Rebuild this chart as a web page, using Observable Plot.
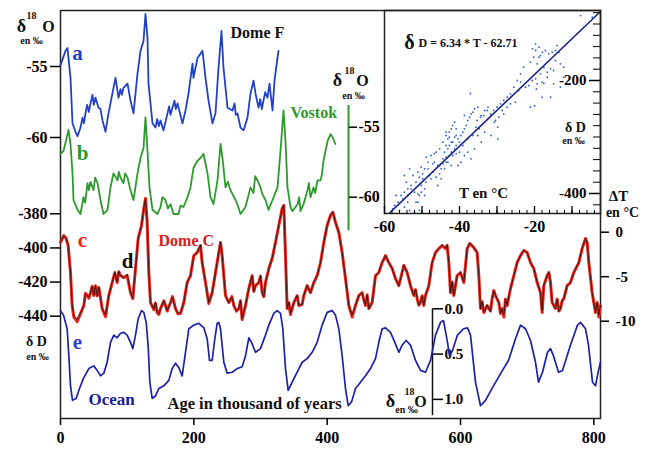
<!DOCTYPE html>
<html>
<head>
<meta charset="utf-8">
<script src="https://cdn.jsdelivr.net/npm/d3@7"></script>
<script src="https://cdn.jsdelivr.net/npm/@observablehq/plot@0.6"></script>
<style>
  html, body { margin: 0; padding: 0; background: #fff; }
  #chart { position: relative; width: 653px; height: 452px; overflow: hidden; background: #fff; }
  #chart svg { position: absolute; left: 0; top: 0; background: transparent !important; overflow: visible; }
</style>
</head>
<body>
<div id="chart"></div>
<script>
// ---- Dome F δ18O (‰), age in ka ----
const domeFAge = [0, 7.5, 10.5, 15, 18, 22.5, 25.5, 30, 37.5, 45, 52.5, 57, 63, 67.5, 72, 79.5, 82.5, 87, 94.5, 100.5,
  105, 109.5, 115.5, 120, 124.5, 127.5, 130.5, 132, 138, 142.5, 150, 154.5, 160.5, 168, 175.5, 183, 187.5, 192, 198, 199.5,
  205.5, 213, 217.5, 222, 228, 232.5, 237, 241.5, 244.5, 250.5, 258, 265.5, 270, 274.5, 280.5, 285, 289.5, 292.5, 297, 304.5,
  310.5, 313.5, 318, 321, 325.5, 327];
const domeFd18O = [-54.9, -53.9, -53.7, -55.8, -59.0, -59.6, -59.9, -59.3, -58.3, -57.6, -57.2, -57.9, -58.8, -59.6, -58.3, -56.5, -55.8, -57.2, -56.5, -56.2,
  -57.4, -58.3, -55.5, -53.9, -53.2, -51.3, -53.0, -56.2, -59.0, -59.3, -58.8, -59.5, -58.3, -57.9, -57.6, -59.0, -58.1, -56.9, -54.8, -55.8,
  -54.4, -53.9, -55.8, -57.4, -59.0, -58.3, -55.1, -52.5, -55.1, -57.9, -58.1, -58.3, -59.3, -59.5, -58.6, -56.9, -56.0, -56.9, -57.9, -57.4,
  -57.2, -56.2, -58.1, -56.0, -54.4, -53.9];
// short-term variability in the glacial stretches
const domeFAgeFine = [33, 35, 40, 42.5, 48, 50, 60, 90, 92, 145, 147.5, 163, 165, 171, 173, 261, 263, 299.5, 302, 307];
const domeFd18OFine = [-58.6, -59.0, -57.7, -58.2, -57.0, -57.7, -58.0, -56.6, -57.0, -58.7, -59.2, -57.8, -58.4, -57.4, -58.0, -57.6, -58.4, -57.3, -58.0, -56.8];

// ---- Vostok δ18O (‰) ----
const vostokAge = [0, 4.5, 10.5, 12, 15, 18, 19.5, 25.5, 30, 34.5, 40.5, 45, 49.5, 55.5, 60, 64.5, 70.5, 75, 79.5, 85.5,
  90, 94.5, 100.5, 105, 109.5, 115.5, 120, 124.5, 127.5, 130.5, 133.5, 138, 145.5, 150, 157.5, 165, 169.5, 177, 184.5, 190.5,
  195, 199.5, 205.5, 210, 214.5, 220.5, 225, 229.5, 235.5, 240, 243, 247.5, 255, 262.5, 270, 277.5, 285, 289.5, 295.5, 300,
  307.5, 312, 318, 325.5, 330, 334.5, 337.5, 340.5, 345, 348, 355.5, 360, 364.5, 370.5, 375, 379.5, 385.5, 390, 394.5, 400.5,
  405, 408, 412.5];
const vostokd18O = [-56.9, -56.7, -55.5, -55.2, -56.2, -58.3, -60.2, -60.9, -61.2, -60.0, -59.0, -58.9, -59.5, -59.0, -60.2, -61.2, -60.9, -59.3, -58.3, -58.8,
  -58.6, -59.0, -58.6, -59.5, -60.2, -58.3, -57.2, -56.5, -54.3, -56.7, -59.3, -60.9, -61.2, -60.7, -60.2, -60.5, -61.2, -61.2, -60.7, -60.0,
  -59.3, -57.9, -57.4, -57.2, -56.9, -58.3, -60.0, -60.5, -58.8, -56.2, -57.2, -59.3, -59.5, -60.2, -61.2, -60.7, -59.3, -59.7, -58.8, -59.3,
  -60.2, -60.9, -60.2, -59.3, -56.7, -53.8, -56.0, -59.3, -60.7, -61.0, -60.5, -61.0, -60.5, -59.5, -60.0, -59.3, -58.8, -58.8, -57.4, -56.0,
  -55.5, -55.7, -56.2];
const vostokAgeFine = [37, 42.5, 52, 87.5, 97, 153, 161, 180, 251, 266, 292, 303, 358, 372.5, 382, 392];
const vostokd18OFine = [-60.4, -59.5, -58.6, -58.2, -58.3, -60.0, -60.8, -60.6, -58.9, -60.6, -58.5, -59.8, -60.0, -59.0, -59.7, -58.4];

// ---- EPICA Dome C: δD (‰) and temperature anomaly ΔT (°C) ----
const domeCAge = [0, 5, 8.5, 11.5, 15, 17.5, 20, 25, 30, 35, 40, 45, 50, 52.5, 57.5, 62.5, 67.5, 72.5, 77.5, 81.5,
  85, 90, 95, 100, 105, 108.5, 112.5, 116.5, 121.5, 125, 127.5, 130, 132.5, 135, 140, 145, 150, 157.5, 165, 172.5,
  180, 185, 190, 195, 200, 205, 210, 212.5, 217.5, 222.5, 227.5, 235, 240, 242.5, 247.5, 252.5, 260, 267.5, 272.5, 277.5,
  282.5, 287.5, 292.5, 297.5, 302.5, 307.5, 312.5, 317.5, 322.5, 327.5, 332.5, 335, 337.5, 340, 345, 350, 357.5, 365, 370, 375,
  380, 385, 390, 395, 400, 405, 408.5, 412.5, 417.5, 422.5, 427.5, 432.5, 437.5, 442.5, 447.5, 452.5, 457.5, 462.5, 467.5, 472.5,
  477.5, 482.5, 487.5, 492.5, 497.5, 502.5, 507.5, 515, 520, 525, 530, 535, 540, 545, 547.5, 552.5, 557.5, 562.5, 567.5, 572.5,
  577.5, 580, 582.5, 585, 590, 595, 600, 605, 610, 614, 620, 625, 627.5, 630, 635, 640, 647.5, 652.5, 657.5, 662.5,
  665, 670, 675, 680, 685, 690, 695, 700, 705, 710, 715, 720, 722.5, 725, 730, 732.5, 735, 737.5, 742.5, 750,
  755, 760, 765, 770, 777.5, 782.5, 787.5, 790, 792.5, 797.5, 802.5, 807.5, 810];
const domeCdD = [-396.7, -392.8, -394.5, -398.6, -414.4, -433.8, -440.5, -443.2, -438.5, -433.8, -427.9, -426.2, -427.9, -422.1, -423.2, -435.5, -440.3, -427.9, -420.3, -414.4,
  -420.3, -416.2, -417.4, -416.2, -426.2, -429.7, -412.1, -394.5, -386.9, -376.9, -371.0, -385.1, -414.4, -432.0, -436.2, -437.9, -435.5, -433.8, -432.0, -435.5,
  -438.4, -432.0, -420.3, -416.2, -404.5, -402.7, -398.6, -408.6, -420.3, -432.5, -426.2, -408.6, -396.8, -404.5, -427.9, -432.0, -433.8, -435.5, -442.0, -433.8,
  -423.8, -416.2, -422.1, -420.3, -426.2, -420.3, -412.1, -406.2, -396.8, -386.9, -376.9, -375.1, -404.5, -435.5, -439.0, -432.0, -433.8, -427.9, -422.1, -426.2,
  -420.3, -416.2, -408.6, -396.8, -386.9, -381.0, -379.2, -385.1, -391.0, -402.7, -418.0, -433.8, -440.5, -433.8, -427.9, -426.2, -433.8, -435.5, -432.0, -416.2,
  -414.4, -408.6, -404.5, -408.6, -412.1, -418.0, -422.1, -410.3, -414.4, -422.1, -427.9, -429.7, -432.0, -433.8, -427.9, -422.1, -408.6, -402.7, -400.4, -398.6,
  -400.4, -398.6, -408.6, -426.2, -427.9, -416.2, -414.4, -420.3, -400.4, -397.4, -399.8, -402.7, -416.2, -435.5, -437.9, -433.8, -429.7, -427.9, -432.0, -435.5,
  -440.5, -433.8, -423.8, -416.2, -408.6, -404.5, -401.5, -402.7, -408.6, -412.1, -420.3, -426.2, -437.9, -422.1, -416.2, -414.4, -420.3, -432.0, -435.5, -435.5,
  -429.7, -422.1, -420.3, -414.4, -408.6, -400.4, -394.5, -396.8, -408.6, -426.2, -437.9, -440.5, -433.8];
const domeCdT = [-1.1, -0.4, -0.7, -1.5, -4.5, -8.2, -9.3, -9.8, -9.1, -8.2, -7.1, -6.8, -7.1, -6.0, -6.2, -8.6, -9.3, -7.1, -5.6, -4.5,
  -5.6, -4.9, -5.1, -4.7, -6.8, -7.4, -4.1, -0.7, 0.8, 2.7, 3.8, 1.1, -4.5, -7.9, -8.6, -9.0, -8.6, -8.2, -7.9, -8.6,
  -9.0, -7.9, -5.6, -4.9, -2.6, -2.3, -1.4, -3.4, -5.6, -7.9, -6.8, -3.4, -1.1, -2.6, -7.1, -7.9, -8.2, -8.6, -9.7, -8.2,
  -6.3, -4.9, -6.0, -5.6, -6.8, -5.6, -4.1, -2.9, -1.1, 0.8, 2.7, 3.0, -2.6, -8.6, -9.1, -7.9, -8.2, -7.1, -6.0, -6.8,
  -5.6, -4.9, -3.4, -1.1, 0.8, 1.9, 2.3, 1.1, 0.0, -2.3, -5.2, -8.2, -9.3, -8.2, -7.1, -6.8, -8.2, -8.6, -7.9, -4.9,
  -4.5, -3.4, -2.6, -3.4, -4.1, -5.2, -6.0, -3.7, -4.5, -6.0, -7.1, -7.4, -7.9, -8.2, -7.1, -6.0, -3.4, -2.3, -1.8, -1.4,
  -1.8, -1.4, -3.4, -6.8, -7.1, -4.9, -4.5, -5.6, -1.8, -1.2, -1.7, -2.3, -4.9, -8.6, -9.0, -8.2, -7.4, -7.1, -7.9, -8.6,
  -9.3, -8.2, -6.3, -4.9, -3.4, -2.6, -2.0, -2.3, -3.4, -4.1, -5.6, -6.8, -8.8, -6.0, -4.9, -4.5, -5.6, -7.9, -8.6, -8.6,
  -7.4, -6.0, -5.6, -4.5, -3.4, -1.8, -0.7, -1.1, -3.4, -6.8, -9.0, -9.3, -8.2];
const domeCAgeFine = [37.5, 42.5, 47.5, 55, 87.5, 142.5, 147.5, 155, 160, 168, 176, 257, 264, 270, 290, 300, 305, 342.5, 355, 362.5,
  455, 460, 532.5, 537.5, 542.5, 587.5, 632.5, 645, 650, 660, 667.5, 745, 747.5, 752.5, 805];
const domeCdDFine = [-426.5, -429.5, -422.5, -428.0, -414.0, -432.5, -439.0, -431.0, -437.0, -428.5, -438.5, -428.5, -437.0, -431.0, -425.5, -416.5, -428.5, -432.0, -428.0, -433.0,
  -430.5, -427.5, -424.5, -433.5, -428.0, -420.0, -431.5, -437.0, -425.0, -438.5, -430.0, -430.0, -437.0, -431.0, -432.0];
const domeCdTFine = [-6.9, -7.3, -6.1, -7.2, -4.4, -7.8, -9.2, -7.7, -8.8, -7.3, -9.1, -7.3, -8.8, -7.7, -6.7, -4.9, -7.3, -7.9, -7.1, -8.1,
  -7.6, -7.0, -6.4, -8.2, -7.2, -5.6, -7.8, -8.9, -6.6, -9.1, -7.5, -7.5, -8.9, -7.7, -7.9];

// ---- Benthic (ocean) δ18O anomaly (‰) ----
const oceanAge = [0, 4.5, 10, 12.5, 15, 18, 23.5, 28.5, 35, 42.5, 50, 55, 60, 65, 70, 75, 80, 85, 90, 95,
  100, 105, 108.5, 112.5, 116.5, 121.5, 125, 128.5, 131.5, 134, 137.5, 142.5, 147.5, 155, 162.5, 167.5, 172.5, 177.5, 182.5, 187.5,
  192.5, 200, 207.5, 215, 220, 223.5, 227.5, 231.5, 235, 237.5, 240, 245, 250, 257.5, 265, 272.5, 277.5, 282.5, 286.5, 292.5,
  300, 307.5, 312.5, 320, 325, 330, 333.5, 337.5, 341.5, 347.5, 355, 362.5, 370, 377.5, 385, 392.5, 400, 407.5, 412.5, 417.5,
  422.5, 427.5, 431.5, 436.5, 442.5, 450, 457.5, 465, 472.5, 477.5, 482.5, 487.5, 495, 501.5, 507.5, 512.5, 518.5, 525, 532.5, 540,
  547.5, 555, 562.5, 570, 574.5, 580.5, 583.5, 588, 595.5, 604.5, 610.5, 615, 622.5, 630, 637.5, 648, 663, 672, 682.5, 690,
  697.5, 705, 712.5, 717, 723, 730.5, 735, 739.5, 747, 753, 765, 775.5, 780, 787.5, 792, 798, 802.5, 807, 810];
const oceand18O = [0.02, 0.07, 0.22, 0.52, 0.85, 1.01, 0.99, 0.88, 0.76, 0.66, 0.63, 0.68, 0.74, 0.71, 0.59, 0.37, 0.29, 0.32, 0.27, 0.26,
  0.29, 0.37, 0.44, 0.29, 0.11, 0.02, 0.04, 0.15, 0.41, 0.81, 0.99, 0.96, 0.88, 0.85, 0.79, 0.66, 0.60, 0.65, 0.74, 0.48,
  0.22, 0.18, 0.16, 0.21, 0.33, 0.57, 0.57, 0.33, 0.16, 0.15, 0.22, 0.59, 0.71, 0.70, 0.66, 0.64, 0.52, 0.32, 0.37, 0.48,
  0.44, 0.29, 0.18, 0.05, 0.02, 0.05, 0.22, 0.66, 0.90, 0.81, 0.70, 0.59, 0.55, 0.48, 0.37, 0.18, 0.04, 0.02, 0.07, 0.22,
  0.52, 0.88, 1.07, 1.03, 0.88, 0.81, 0.74, 0.66, 0.55, 0.37, 0.22, 0.21, 0.26, 0.37, 0.48, 0.40, 0.35, 0.40, 0.57, 0.68,
  0.70, 0.57, 0.29, 0.15, 0.13, 0.37, 0.52, 0.46, 0.29, 0.22, 0.21, 0.29, 0.81, 1.07, 1.01, 0.87, 0.68, 0.57, 0.33, 0.18,
  0.22, 0.35, 0.59, 0.81, 0.70, 0.48, 0.44, 0.52, 0.70, 0.68, 0.40, 0.18, 0.15, 0.22, 0.40, 0.81, 0.85, 0.68, 0.59];

// ---- Inset: present-day surface δD (‰) versus temperature T (°C) ----
const surfaceT = [-57.3, -56.4, -57.8, -55.6, -54.7, -55.1, -53.8, -52.9, -52.0, -51.1, -50.2, -51.6, -52.4, -53.3, -51.1, -50.2, -49.3, -48.4, -48.9, -47.6,
  -46.7, -46.7, -45.8, -47.1, -48.0, -47.6, -46.2, -45.3, -44.9, -44.4, -44.0, -43.6, -43.1, -42.7, -42.2, -41.8, -41.3, -42.2, -41.3, -40.9,
  -40.4, -40.0, -39.6, -39.1, -38.7, -38.2, -37.8, -37.3, -36.9, -36.0, -35.1, -34.2, -33.3, -32.4, -31.6, -30.7, -29.8, -33.3, -35.1, -34.2,
  -36.0, -37.8, -38.7, -36.9, -39.6, -40.4, -42.2, -43.1, -44.0, -44.9, -45.8, -49.3, -50.7, -51.6, -52.0, -56.9, -54.7, -49.8, -42.2, -41.8,
  -41.3, -43.1, -42.7, -43.6, -40.9, -40.0, -39.1, -37.8, -36.4, -35.6, -34.7, -31.6, -29.8, -36.4, -38.7, -40.9, -43.6, -44.4, -45.3, -46.2,
  -47.1, -48.4, -49.8, -50.7, -52.9, -53.8, -54.2, -50.2, -48.9, -51.1, -49.3,
  -43.6, -42.7, -41.8, -40.9, -42.7, -43.6, -44.4, -45.3, -56.0, -54.7, -53.8, -53.3, -50.7,
  -20.6, -19.7, -18.8, -17.9, -17.1, -16.2, -15.3, -14.4, -13.5, -18.4, -20.2, -21.1, -19.3, -17.5, -15.7, -16.6, -18.4, -14.9, -13.1, -14.4,
  -22.9, -23.7, -24.6, -23.7, -25.5, -24.2, -26.4, -27.3, -28.2, -29.1, -30.0, -30.9, -31.7, -32.6, -33.5, -34.4, -35.3, -28.6, -27.3, -28.2,
  -29.5, -30.4, -26.4, -25.1, -22.4, -21.5, -20.6, -19.7, -21.1, -19.3, -18.0, -16.6, -18.8, -4.6, -7.7, -12.2, -14.0, -19.7,
  -12.2, -13.1, -14.9, -15.7, -19.5, -18.0, -20.0, -17.5, -37.1];
const surfacedD = [-421.2, -415.3, -427.1, -403.5, -397.6, -409.4, -391.7, -385.8, -397.6, -400.6, -397.6, -379.9, -368.1, -356.3, -362.2, -353.4, -356.3, -344.5, -335.7, -332.7,
  -329.8, -344.5, -350.4, -362.2, -368.1, -374.0, -371.1, -365.2, -356.3, -338.6, -326.8, -315.0, -303.2, -291.4, -285.5, -279.6, -273.7, -309.1, -320.9, -315.0,
  -303.2, -309.1, -297.3, -291.4, -285.5, -279.6, -270.8, -264.9, -259.0, -250.1, -247.2, -261.9, -253.1, -247.2, -261.9, -273.7, -282.6, -291.4, -297.3, -309.1,
  -320.9, -326.8, -332.7, -338.6, -344.5, -350.4, -350.4, -344.5, -356.3, -374.0, -385.8, -391.7, -403.5, -415.3, -433.0, -403.5, -368.1, -374.0, -326.8, -332.7,
  -300.3, -320.9, -332.7, -335.7, -285.5, -326.8, -315.0, -303.2, -297.3, -282.6, -285.5, -297.3, -303.2, -256.0, -261.9, -297.3, -291.4, -309.1, -320.9, -326.8,
  -347.5, -356.3, -365.2, -371.1, -391.7, -403.5, -379.9, -385.8, -379.9, -415.3, -403.5,
  -297.3, -300.3, -309.1, -329.8, -315.0, -344.5, -347.5, -350.4, -430.0, -424.2, -415.3, -430.1, -430.0,
  -143.9, -146.9, -141.0, -149.9, -146.9, -152.8, -149.9, -146.9, -149.9, -155.8, -158.7, -167.6, -170.5, -176.4, -179.4, -185.3, -188.2, -182.3, -170.5, -164.6,
  -176.4, -188.2, -200.0, -203.0, -211.8, -217.7, -223.6, -229.5, -235.4, -241.3, -247.2, -253.1, -259.0, -253.1, -262.0, -264.9, -270.8, -253.1, -247.2, -259.0,
  -264.9, -270.8, -241.3, -238.4, -211.8, -208.9, -200.0, -197.1, -247.2, -205.9, -203.0, -194.1, -158.7, -87.9, -85.0, -176.4, -138.1, -135.1,
  -194.1, -211.8, -205.9, -229.5, -215.0, -230.0, -245.0, -205.0, -223.0];
const fitSlope = 6.34, fitIntercept = -62.71;

// ---- tick values ----
const ageTicks = [0, 200, 400, 600, 800];
const domeFTicks = [-55, -60];
const vostokTicks = [-55, -60];
const domeCTicks = [-380, -400, -420, -440];
const dTTicks = [0, -5, -10];
const oceanTicks = [0, 0.5, 1.0];
const insetTTicks = [-60, -40, -20];
const insetDTicks = [-200, -400];

// ---- tables for the marks (coarse and fine readings merged in age order) ----
const byAge = rows => rows.sort((a, b) => a.age - b.age);
const domeF = byAge([
  ...domeFAge.map((a, i) => ({age: a, v: domeFd18O[i]})),
  ...domeFAgeFine.map((a, i) => ({age: a, v: domeFd18OFine[i]}))
]);
const vostok = byAge([
  ...vostokAge.map((a, i) => ({age: a, v: vostokd18O[i]})),
  ...vostokAgeFine.map((a, i) => ({age: a, v: vostokd18OFine[i]}))
]);
const domeC = byAge([
  ...domeCAge.map((a, i) => ({age: a, dD: domeCdD[i], dT: domeCdT[i]})),
  ...domeCAgeFine.map((a, i) => ({age: a, dD: domeCdDFine[i], dT: domeCdTFine[i]}))
]);
const ocean = oceanAge.map((a, i) => ({age: a, v: oceand18O[i]}));
const surface = surfaceT.map((t, i) => ({T: t, D: surfacedD[i]}));
const fitLine = [-60, -2.4].map(t => ({T: t, D: fitSlope * t + fitIntercept}));

const col = {
  domeF: "#2341c6", vostok: "#2c9a2c", domeC: "#e8261c", temp: "#111111",
  ocean: "#1e22a4", dots: "#2b5fd2", fit: "#1b278a", ink: "#111111"
};
const W = 653, H = 452;
const chart = document.getElementById("chart");
const num = d => String(d);
const font = {fontFamily: "Liberation Serif", fontWeight: "bold"};

function layer(options) {
  const svg = Plot.plot({width: W, height: H, ...options});
  chart.append(svg);
}
function note(text, x, y, o = {}) {
  return Plot.text([text], {x, y, text: d => d, lineAnchor: "middle", fill: col.ink, fontSize: 15, ...font, ...o});
}
function axis(make, o) {
  return make({label: null, strokeWidth: 1.5, fontSize: 15, ...font, ...o});
}
const ageX = {domain: [0, 810], range: [60, 600]};

// frame and age axis
layer({
  marginLeft: 60, marginRight: 53, marginTop: 10, marginBottom: 34,
  x: {domain: [0, 810]},
  marks: [
    Plot.frame({stroke: "#222", strokeWidth: 1.5}),
    axis(Plot.axisX, {anchor: "bottom", ticks: ageTicks, tickSize: 7, tickPadding: 6, tickFormat: num, fontSize: 16})
  ]
});

// a: Dome F
layer({
  marginLeft: 60, marginRight: 53, marginTop: 10, marginBottom: 34,
  x: {...ageX, axis: null},
  y: {domain: [-55, -60], range: [66, 137]},
  marks: [
    axis(Plot.axisY, {anchor: "left", ticks: domeFTicks, tickSize: 10, tickPadding: 3, tickFormat: num, fontSize: 16}),
    Plot.line(domeF, {x: "age", y: "v", stroke: col.domeF, strokeWidth: 1.8}),
    note("δ", -58.5, -52.18, {fontSize: 18}),
    note("18", -43.5, -51.41, {fontSize: 10}),
    note("O", -18, -52.18, {fontSize: 16}),
    note("en ‰", -43.5, -53.17, {fontSize: 10}),
    note("a", 25.5, -54.08, {fontSize: 21, fill: col.domeF}),
    note("Dome F", 255, -52.61, {fontSize: 16, textAnchor: "start"})
  ]
});

// b: Vostok, with its own axis on the right of the curve
layer({
  marginLeft: 0, marginRight: 305, marginTop: 10, marginBottom: 34,
  x: {...ageX, axis: null},
  y: {domain: [-55, -60], range: [126.7, 196.7]},
  marks: [
    Plot.ruleX([432], {y1: -53.45, y2: -62.4, stroke: col.vostok, strokeWidth: 2}),
    axis(Plot.axisY, {anchor: "right", ticks: vostokTicks, tickSize: 8, tickPadding: 2, tickFormat: num, fontSize: 16}),
    Plot.line(vostok, {x: "age", y: "v", stroke: col.vostok, strokeWidth: 1.8}),
    note("b", 33, -56.88, {fontSize: 21, fill: col.vostok}),
    note("Vostok", 345, -53.95, {fontSize: 16, textAnchor: "start", fill: col.vostok}),
    note("δ", 415.5, -51.66, {fontSize: 18}),
    note("18", 433.5, -50.95, {fontSize: 10}),
    note("O", 453, -51.66, {fontSize: 16}),
    note("en ‰", 439.5, -52.74, {fontSize: 10})
  ]
});

// c: Dome C δD
layer({
  marginLeft: 60, marginRight: 53, marginTop: 10, marginBottom: 34,
  x: {...ageX, axis: null},
  y: {domain: [-380, -440], range: [213.3, 315.7]},
  marks: [
    axis(Plot.axisY, {anchor: "left", ticks: domeCTicks, tickSize: 10, tickPadding: 3, tickFormat: num, fontSize: 16}),
    Plot.line(domeC, {x: "age", y: "dD", stroke: col.domeC, strokeWidth: 3}),
    note("c", 33, -395.7, {fontSize: 21, fill: col.domeC}),
    note("Dome C", 147, -395.7, {fontSize: 16, textAnchor: "start", fill: "#d0201c"}),
    note("d", 100.5, -408.0, {fontSize: 21}),
    note("δ D", -36, -455.0, {fontSize: 14}),
    note("en ‰", -34.5, -463.5, {fontSize: 10})
  ]
});

// d: Dome C temperature anomaly
layer({
  marginLeft: 60, marginRight: 53, marginTop: 10, marginBottom: 34,
  x: {...ageX, axis: null},
  y: {domain: [0, -10], range: [231.7, 320.7]},
  marks: [
    axis(Plot.axisY, {anchor: "right", ticks: dTTicks, tickSize: 8, tickPadding: 7, tickFormat: num}),
    Plot.line(domeC, {x: "age", y: "dT", stroke: col.temp, strokeWidth: 0.75}),
    note("ΔT", 837, 4.01, {fontSize: 15}),
    note("en °C", 843, 2.21, {fontSize: 14})
  ]
});

// e: ocean δ18O, reversed axis in the middle of the panel
layer({
  marginLeft: 0, marginRight: 221, marginTop: 10, marginBottom: 34,
  x: {...ageX, axis: null},
  y: {domain: [0, 1], range: [308.3, 398.9]},
  marks: [
    Plot.ruleX([558], {y1: 0, y2: 1.18, stroke: col.ink, strokeWidth: 1.5}),
    axis(Plot.axisY, {anchor: "right", ticks: oceanTicks, tickSize: 10, tickPadding: 2, tickFormat: d => d.toFixed(1)}),
    Plot.line(ocean, {x: "age", y: "v", stroke: col.ocean, strokeWidth: 1.7}),
    note("e", 25.5, 0.372, {fontSize: 21, fill: "#3343c4"}),
    note("Ocean", 42, 1.0, {fontSize: 17, textAnchor: "start", fill: "#1d208f"}),
    note("Age in thousand of years", 160.5, 1.045, {fontSize: 16.5, textAnchor: "start"}),
    note("δ", 495, 1.023, {fontSize: 18}),
    note("18", 523.5, 0.913, {fontSize: 10}),
    note("O", 540, 1.023, {fontSize: 16}),
    note("en ‰", 519, 1.111, {fontSize: 10})
  ]
});

// inset: δD versus T with the linear fit
const insetT = {domain: [-60, -2.4]};
const insetD = {domain: [-435.4, -76.1]};
layer({
  marginLeft: 384, marginRight: 53, marginTop: 10, marginBottom: 239,
  x: insetT,
  y: {...insetD, axis: null},
  marks: [
    Plot.frame({stroke: "#222", strokeWidth: 1.5}),
    Plot.dot(surface, {x: "T", y: "D", r: 0.9, fill: col.dots, stroke: "none"}),
    Plot.line(fitLine, {x: "T", y: "D", stroke: col.fit, strokeWidth: 1.6, clip: "frame"}),
    axis(Plot.axisX, {anchor: "bottom", ticks: insetTTicks, tickSize: 0, tickPadding: 7, tickFormat: num, fontSize: 16}),
    note("δ", -53.33, -132.7, {fontSize: 20}),
    note("D = 6.34 * T - 62.71", -50.93, -134.5, {fontSize: 12, textAnchor: "start"}),
    note("T en °C", -33.6, -400, {fontSize: 15}),
    note("δ D", -9.07, -283.2, {fontSize: 14}),
    note("en ‰", -9.6, -306.2, {fontSize: 10})
  ]
});

// inset ticks: temperature ticks pointing up from the inset base
layer({
  marginLeft: 384, marginRight: 53, marginTop: 213, marginBottom: 0,
  x: insetT,
  marks: [
    axis(Plot.axisX, {anchor: "top", ticks: d3.range(-60, -2, 2), tickSize: 4, tickFormat: () => "", strokeWidth: 1}),
    axis(Plot.axisX, {anchor: "top", ticks: d3.range(-60, -2, 10), tickSize: 8, tickFormat: () => "", strokeWidth: 1.3})
  ]
});

// inset ticks: δD ticks pointing inward from the right edge
layer({
  marginLeft: 600, marginRight: 0, marginTop: 10, marginBottom: 239,
  y: insetD,
  marks: [
    axis(Plot.axisY, {anchor: "left", ticks: d3.range(-420, -79, 20), tickSize: 7, tickFormat: () => "", strokeWidth: 1}),
    axis(Plot.axisY, {anchor: "left", ticks: insetDTicks, tickSize: 11, tickPadding: 3, tickFormat: num})
  ]
});
</script>
</body>
</html>
